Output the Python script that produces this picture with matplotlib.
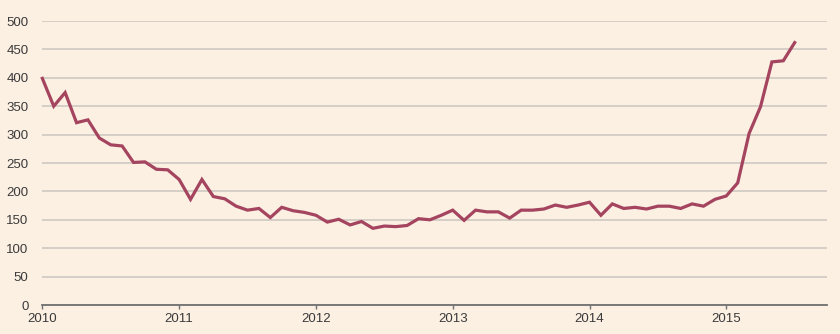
import numpy as np
import matplotlib
matplotlib.use("Agg")
import matplotlib.pyplot as plt

values_2010 = [399, 350, 374, 321, 326, 294, 282, 280, 251, 252, 239, 238]
values_2011 = [221, 186, 221, 191, 187, 174, 167, 170, 154, 172, 166, 163]
values_2012 = [158, 146, 151, 141, 147, 135, 139, 138, 140, 152, 150, 158]
values_2013 = [167, 149, 167, 164, 164, 153, 167, 167, 169, 176, 172, 176]
values_2014 = [181, 158, 178, 170, 172, 169, 174, 174, 170, 178, 174, 186]
values_2015 = [192, 215, 302, 349, 428, 430, 462]
values = values_2010 + values_2011 + values_2012 + values_2013 + values_2014 + values_2015

start_year = 2010
x_ticks = [2010, 2011, 2012, 2013, 2014, 2015]
x_tick_labels = ["2010", "2011", "2012", "2013", "2014", "2015"]
y_ticks = [0, 50, 100, 150, 200, 250, 300, 350, 400, 450, 500]

xs = start_year + np.arange(len(values)) / 12.0

bg = "#FCF0E3"
plt.rcParams["font.family"] = ["Liberation Sans", "DejaVu Sans"]
fig = plt.figure(figsize=(8.4, 3.34), dpi=100, facecolor=bg)
ax = fig.add_axes([0.0504, 0.0868, 0.9341, 0.8503], facecolor=bg)

ax.set_ylim(0, 500)
ax.set_xlim(2010, 2015.736)
ax.set_yticks(y_ticks)
ax.set_xticks(x_ticks)
ax.set_xticklabels(x_tick_labels)
ax.yaxis.grid(True, color="#D3CCC5", linewidth=1.3)
ax.set_axisbelow(True)

for s in ["top", "right", "left"]:
    ax.spines[s].set_visible(False)
ax.spines["bottom"].set_color("#707070")
ax.spines["bottom"].set_linewidth(1.3)

ax.tick_params(axis="y", length=0, pad=10, labelsize=9.5, labelcolor="#3A3A3A")
ax.tick_params(axis="x", length=3, width=1, color="#707070", pad=3, labelsize=9.5, labelcolor="#3A3A3A")

ax.plot(xs, values, color="#A4445F", linewidth=2.3, solid_joinstyle="miter", clip_on=False)

fig.savefig("out.png", dpi=100, facecolor=bg)
